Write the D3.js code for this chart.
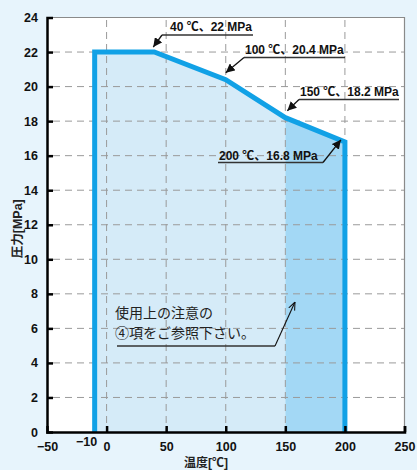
<!DOCTYPE html>
<html><head><meta charset="utf-8">
<script src="https://cdn.jsdelivr.net/npm/d3@7"></script>
<style>
html,body{margin:0;padding:0;background:#e7f4fc;}
svg{display:block;}
</style></head>
<body>
<svg id="c" width="417" height="470"></svg>
<script>
// Data
const temps = [-10, -10, 40, 100, 150, 200, 200];
const pressures = [0, 22, 22, 20.4, 18.2, 16.8, 0];
const xTicks = [-50, 0, 50, 100, 150, 200, 250];
const yTicks = [0, 2, 4, 6, 8, 10, 12, 14, 16, 18, 20, 22, 24];
const labels = ["40 ℃、22 MPa", "100 ℃、20.4 MPa", "150 ℃、18.2 MPa", "200 ℃、16.8 MPa"];
const noteLines = ["使用上の注意の", "④項をご参照下さい。"];
const xTitle = "温度[℃]";
const yTitle = "圧力[MPa]";

const svg = d3.select("#c");
const x = d3.scaleLinear().domain([-50, 250]).range([47, 404.5]);
const y = d3.scaleLinear().domain([0, 24]).range([432, 17.5]);
const font = "Liberation Sans, Arial, Noto Sans CJK JP, sans-serif";

// plot background
svg.append("rect").attr("x", x(-50)).attr("y", y(24))
  .attr("width", x(250) - x(-50)).attr("height", y(0) - y(24)).attr("fill", "#fff");

const pts = temps.map((t, i) => [t, pressures[i]]);
// fills
const area = d3.area().x(d => x(d[0])).y0(y(0)).y1(d => y(d[1]));
svg.append("path").attr("d", area(pts.slice(1, 5))).attr("fill", "#d5ebf8");
svg.append("path").attr("d", area(pts.slice(4, 6))).attr("fill", "#a3d8f5");

// grid
const g = svg.append("g").attr("stroke", "#9a9a9a").attr("stroke-width", 1).attr("stroke-dasharray", "7,5");
xTicks.filter(t => t > -50 && t < 250).forEach(t => {
  g.append("line").attr("x1", x(t)).attr("x2", x(t)).attr("y1", y(0)).attr("y2", y(24)).attr("stroke-dashoffset", 3);
});
yTicks.filter(t => t > 0 && t < 24).forEach(t => {
  g.append("line").attr("x1", x(-50)).attr("x2", x(250)).attr("y1", y(t)).attr("y2", y(t)).attr("stroke-dashoffset", -6);
});

// top/right border
svg.append("path").attr("d", `M${x(-50)},${y(24)}H${x(250)}V${y(0)}`)
  .attr("fill", "none").attr("stroke", "#8a8a8a").attr("stroke-width", 1.2);

// main line
const line = d3.line().x(d => x(d[0])).y(d => y(d[1]));
svg.append("path").attr("d", line(pts)).attr("fill", "none")
  .attr("stroke", "#11a1e6").attr("stroke-width", 5).attr("stroke-linejoin", "miter");

// axes
const xAxis = d3.axisBottom(x).tickValues(xTicks).tickSize(-6).tickFormat(d => d < 0 ? "−" + Math.abs(d) : d);
const gx = svg.append("g").attr("transform", `translate(0,${y(0)})`).call(xAxis);
gx.select(".domain").attr("stroke", "#000").attr("stroke-width", 2.5);
gx.selectAll(".tick line").attr("stroke", "#000").attr("stroke-width", 2.5);
gx.selectAll(".tick text").attr("y", 10).attr("font-family", font).attr("font-size", 12.5)
  .attr("font-weight", "bold").attr("fill", "#111");
gx.select(".tick line").remove();
// special -10 label
svg.append("text").attr("x", x(-10) - 8).attr("y", 446).attr("text-anchor", "middle")
  .attr("font-family", font).attr("font-size", 12.5).attr("font-weight", "bold").attr("fill", "#111")
  .text("−" + Math.abs(temps[0]));

const yAxis = d3.axisLeft(y).tickValues(yTicks).tickSize(-6).tickPadding(9);
const gy = svg.append("g").attr("transform", `translate(${x(-50)},0)`).call(yAxis);
gy.select(".domain").attr("stroke", "#000").attr("stroke-width", 2.5);
gy.selectAll(".tick line").attr("stroke", "#000").attr("stroke-width", 2.5);
gy.selectAll(".tick text").attr("font-family", font).attr("font-size", 12.5)
  .attr("font-weight", "bold").attr("fill", "#111");
gy.selectAll(".tick line").filter(d => d === 0 || d === 24).remove();

// axis titles
svg.append("text").attr("x", 206).attr("y", 467).attr("text-anchor", "middle")
  .attr("font-family", font).attr("font-size", 12).attr("font-weight", "bold").attr("fill", "#222").text(xTitle);
svg.append("text").attr("transform", `translate(22,${y(12) + 4}) rotate(-90)`).attr("text-anchor", "middle")
  .attr("font-family", font).attr("font-size", 12.5).attr("font-weight", "bold").attr("fill", "#222").text(yTitle);

// arrow markers
const defs = svg.append("defs");
defs.append("marker").attr("id", "ah").attr("viewBox", "0 0 10 10").attr("refX", 10).attr("refY", 5)
  .attr("markerWidth", 9).attr("markerHeight", 9).attr("markerUnits", "userSpaceOnUse").attr("orient", "auto")
  .append("path").attr("d", "M0,0L10,5L0,10z").attr("fill", "#111");
defs.append("marker").attr("id", "ah2").attr("viewBox", "0 0 10 10").attr("refX", 10).attr("refY", 5)
  .attr("markerWidth", 8).attr("markerHeight", 8).attr("markerUnits", "userSpaceOnUse").attr("orient", "auto")
  .append("path").attr("d", "M0,1L10,5L0,9").attr("fill", "none").attr("stroke", "#111").attr("stroke-width", 1.3);

// annotation layout
const ann = [
  {i: 2, tx: 170, ty: 31, ux0: 162, ux1: 253, uy: 35, from: "left", tipdx: -1, tipdy: -5},
  {i: 3, tx: 245, ty: 54, ux0: 244, ux1: 345, uy: 57.5, from: "left", tipdx: 0, tipdy: -7},
  {i: 4, tx: 300, ty: 96, ux0: 299, ux1: 399, uy: 99.5, from: "left", tipdx: 2, tipdy: -7},
  {i: 5, tx: 219, ty: 160, ux0: 218, ux1: 323, uy: 162.5, from: "right", tipdx: -4, tipdy: -2}
];
ann.forEach((a, k) => {
  const p = pts[a.i];
  const px = x(p[0]) + a.tipdx, py = y(p[1]) + a.tipdy;
  svg.append("text").attr("x", a.tx).attr("y", a.ty).attr("font-family", font).attr("font-size", 12)
    .attr("font-weight", "bold").attr("fill", "#111").text(labels[k]);
  const sx = a.from === "left" ? a.ux0 : a.ux1;
  svg.append("line").attr("x1", a.ux0).attr("x2", a.ux1).attr("y1", a.uy).attr("y2", a.uy)
    .attr("stroke", "#333").attr("stroke-width", 1.3);
  svg.append("line").attr("x1", sx).attr("y1", a.uy).attr("x2", px).attr("y2", py)
    .attr("stroke", "#111").attr("stroke-width", 1.3).attr("marker-end", "url(#ah)");
});

// note
noteLines.forEach((t, i) => {
  svg.append("text").attr("x", 115).attr("y", 318 + i * 19.5).attr("font-family", "Noto Sans CJK JP, sans-serif")
    .attr("font-size", 14).attr("fill", "#222").text(t);
});
svg.append("line").attr("x1", 117).attr("x2", 275).attr("y1", 346).attr("y2", 346)
  .attr("stroke", "#333").attr("stroke-width", 1.3);
svg.append("line").attr("x1", 275).attr("y1", 346).attr("x2", 295).attr("y2", 302)
  .attr("stroke", "#111").attr("stroke-width", 1.1).attr("marker-end", "url(#ah2)");
</script>
</body></html>
